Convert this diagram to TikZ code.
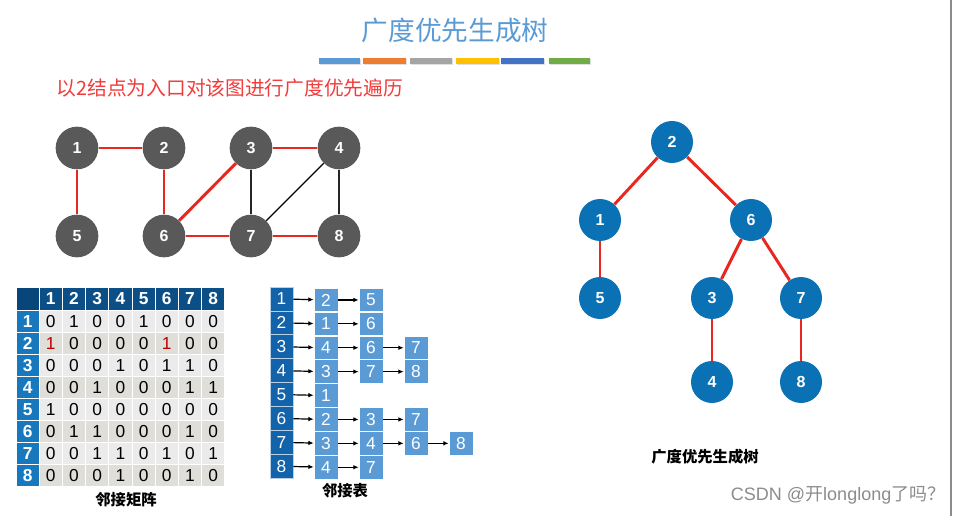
\documentclass[tikz,border=0pt]{standalone}
\usepackage{fontspec}
\setmainfont{Liberation Sans}
\newfontfamily\cjk{Noto Sans CJK SC}
\usetikzlibrary{arrows.meta}

\definecolor{titleblue}{HTML}{5B9BD5}
\definecolor{subred}{HTML}{F23B3B}
\definecolor{nodegray}{HTML}{595959}
\definecolor{edgered}{HTML}{E8281E}
\definecolor{treeblue}{HTML}{0A71B5}
\definecolor{hdrblue}{HTML}{0B4F86}
\definecolor{cornerblue}{HTML}{08457A}
\definecolor{rowhdr}{HTML}{1878BE}
\definecolor{rowa}{HTML}{EBEBEB}
\definecolor{rowb}{HTML}{E0DED9}
\definecolor{valred}{HTML}{C00000}
\definecolor{headblue}{HTML}{1263AA}
\definecolor{cellblue}{HTML}{5B9BD5}
\definecolor{markgray}{HTML}{8C8C8C}
\definecolor{barblue}{HTML}{5B9BD5}
\definecolor{barorange}{HTML}{ED7D31}
\definecolor{bargray}{HTML}{A5A5A5}
\definecolor{baryellow}{HTML}{FFC000}
\definecolor{bardark}{HTML}{4472C4}
\definecolor{bargreen}{HTML}{70AD47}

\newcommand\hl[1]{\textcolor{valred}{#1}}

\tikzset{
  gnode/.style={circle,fill=nodegray,text=white,minimum size=32pt,inner sep=0pt,
    font=\bfseries\fontsize{12}{12}\selectfont},
  tnode/.style={circle,fill=treeblue,text=white,minimum size=31.5pt,inner sep=0pt,
    font=\bfseries\fontsize{12}{12}\selectfont},
  redge/.style={draw=edgered,line width=2.2pt},
  kedge/.style={draw=black!85,line width=1.3pt},
  mcell/.style={draw=white,line width=0.5pt,minimum width=17.4pt,minimum height=16.6pt,
    inner sep=0pt,font=\fontsize{13}{13}\selectfont},
  mhead/.style={mcell,fill=hdrblue,text=white,minimum height=17.25pt,
    font=\bfseries\fontsize{13}{13}\selectfont},
  lhead/.style={draw=white!70!headblue,line width=0.5pt,fill=headblue,text=white,
    minimum width=17.25pt,minimum height=17.9pt,inner sep=0pt,font=\fontsize{13}{13}\selectfont},
  lcell/.style={draw=white,line width=0.5pt,fill=cellblue,text=white,
    minimum width=18pt,minimum height=17.8pt,inner sep=0pt,font=\fontsize{13}{13}\selectfont},
  listarrow/.style={-{Latex[length=4pt,width=3.5pt]},black,line width=0.9pt},
  caption/.style={font=\cjk\bfseries\fontsize{11.5}{11.5}\selectfont}
}

\begin{document}
\begin{tikzpicture}[x=0.75pt,y=-0.75pt]
  \useasboundingbox (0,0) rectangle (966,516);
  \fill[white] (0,0) rectangle (966,516);

  % heading
  \node[text=titleblue,font=\cjk\fontsize{20}{20}\selectfont] (title) at (455,30)
    {广度优先生成树};
  \foreach \xa/\xb/\col in {319/360/barblue,363/406/barorange,410/452/bargray,
                            456/499/baryellow,501/544/bardark,549/590/bargreen} {
    \fill[black!12] (\xa+1,59.5) rectangle (\xb+1,65.5);
    \fill[\col] (\xa,58) rectangle (\xb,64);
  }
  \node[anchor=west,text=subred,font=\cjk\fontsize{14.8}{14.8}\selectfont] (subtitle) at (52,88)
    {以2结点为入口对该图进行广度优先遍历};

  % the graph
  \node[gnode] (g1) at (77,148) {1};
  \node[gnode] (g2) at (164,148) {2};
  \node[gnode] (g3) at (251,148) {3};
  \node[gnode] (g4) at (339,148) {4};
  \node[gnode] (g5) at (77,236) {5};
  \node[gnode] (g6) at (164,236) {6};
  \node[gnode] (g7) at (251,236) {7};
  \node[gnode] (g8) at (339,236) {8};

  \draw[redge] (g1) -- (g2);
  \draw[redge] (g1) -- (g5);
  \draw[redge] (g2) -- (g6);
  \draw[redge] (g3) -- (g4);
  \draw[redge] (g3) -- (g6);
  \draw[redge] (g6) -- (g7);
  \draw[redge] (g7) -- (g8);
  \draw[kedge] (g3) -- (g7);
  \draw[kedge] (g4) -- (g8);
  \draw[black,line width=0.8pt] (g4) -- (g7);

  % adjacency matrix
  \node[mhead,fill=cornerblue] (m-0-0) at (27.6,298.5) {};
  \foreach \c in {1,...,8}
    \node[mhead] (m-0-\c) at ({16+23.2*\c+11.6},298.5) {\c};
  \foreach \r/\shade/\row in {1/rowa/{0,1,0,0,1,0,0,0},
                              2/rowb/{\hl1,0,0,0,0,\hl1,0,0},
                              3/rowa/{0,0,0,1,0,1,1,0},
                              4/rowb/{0,0,1,0,0,0,1,1},
                              5/rowa/{1,0,0,0,0,0,0,0},
                              6/rowb/{0,1,1,0,0,0,1,0},
                              7/rowa/{0,0,1,1,0,1,0,1},
                              8/rowb/{0,0,0,1,0,0,1,0}} {
    \node[mhead,fill=rowhdr,minimum height=16.6pt] (m-\r-0) at (27.6,{321.05+22.1*(\r-1)}) {\r};
    \foreach \v [count=\c] in \row
      \node[mcell,fill=\shade] (m-\r-\c) at ({16+23.2*\c+11.6},{321.05+22.1*(\r-1)}) {\v};
  }
  \node[caption] (mlabel) at (126,500) {邻接矩阵};

  % adjacency list
  \foreach \r/\lst in {1/{2,5},2/{1,6},3/{4,6,7},4/{3,7,8},
                       5/{1},6/{2,3,7},7/{3,4,6,8},8/{4,7}} {
    \node[lhead] (h\r) at (281.5,{287+23.9*(\r-0.5)}) {\r};
    \foreach \v [count=\k, remember=\k as \prev (initially 0)] in \lst {
      \node[lcell] (l-\r-\k) at ({326+45*(\k-1)},{288+23.9*(\r-0.5)}) {\v};
      \ifnum\k=1
        \draw[listarrow] (h\r) -- (l-\r-\k);
      \else
        \draw[listarrow] (l-\r-\prev) -- (l-\r-\k);
      \fi
    }
  }
  \node[caption] (llabel) at (345,491) {邻接表};

  % spanning tree
  \node[tnode] (t2) at (672,142) {2};
  \node[tnode] (t1) at (600,220) {1};
  \node[tnode] (t6) at (751,220) {6};
  \node[tnode] (t5) at (600,298) {5};
  \node[tnode] (t3) at (712,298) {3};
  \node[tnode] (t7) at (801,298) {7};
  \node[tnode] (t4) at (712,382) {4};
  \node[tnode] (t8) at (801,382) {8};

  \draw[redge] (t2) -- (t1);
  \draw[redge] (t2) -- (t6);
  \draw[redge] (t1) -- (t5);
  \draw[redge] (t6) -- (t3);
  \draw[redge] (t6) -- (t7);
  \draw[redge] (t3) -- (t4);
  \draw[redge] (t7) -- (t8);
  \node[caption] (tlabel) at (705,457) {广度优先生成树};

  % watermark
  \node[anchor=east,text=markgray,font=\fontsize{13.5}{13.5}\selectfont] (mark) at (950,495)
    {CSDN @{\cjk 开}longlong{\cjk 了吗？}};
  \draw[markgray,line width=0.8pt] (951,0) -- (951,516);
\end{tikzpicture}
\end{document}
